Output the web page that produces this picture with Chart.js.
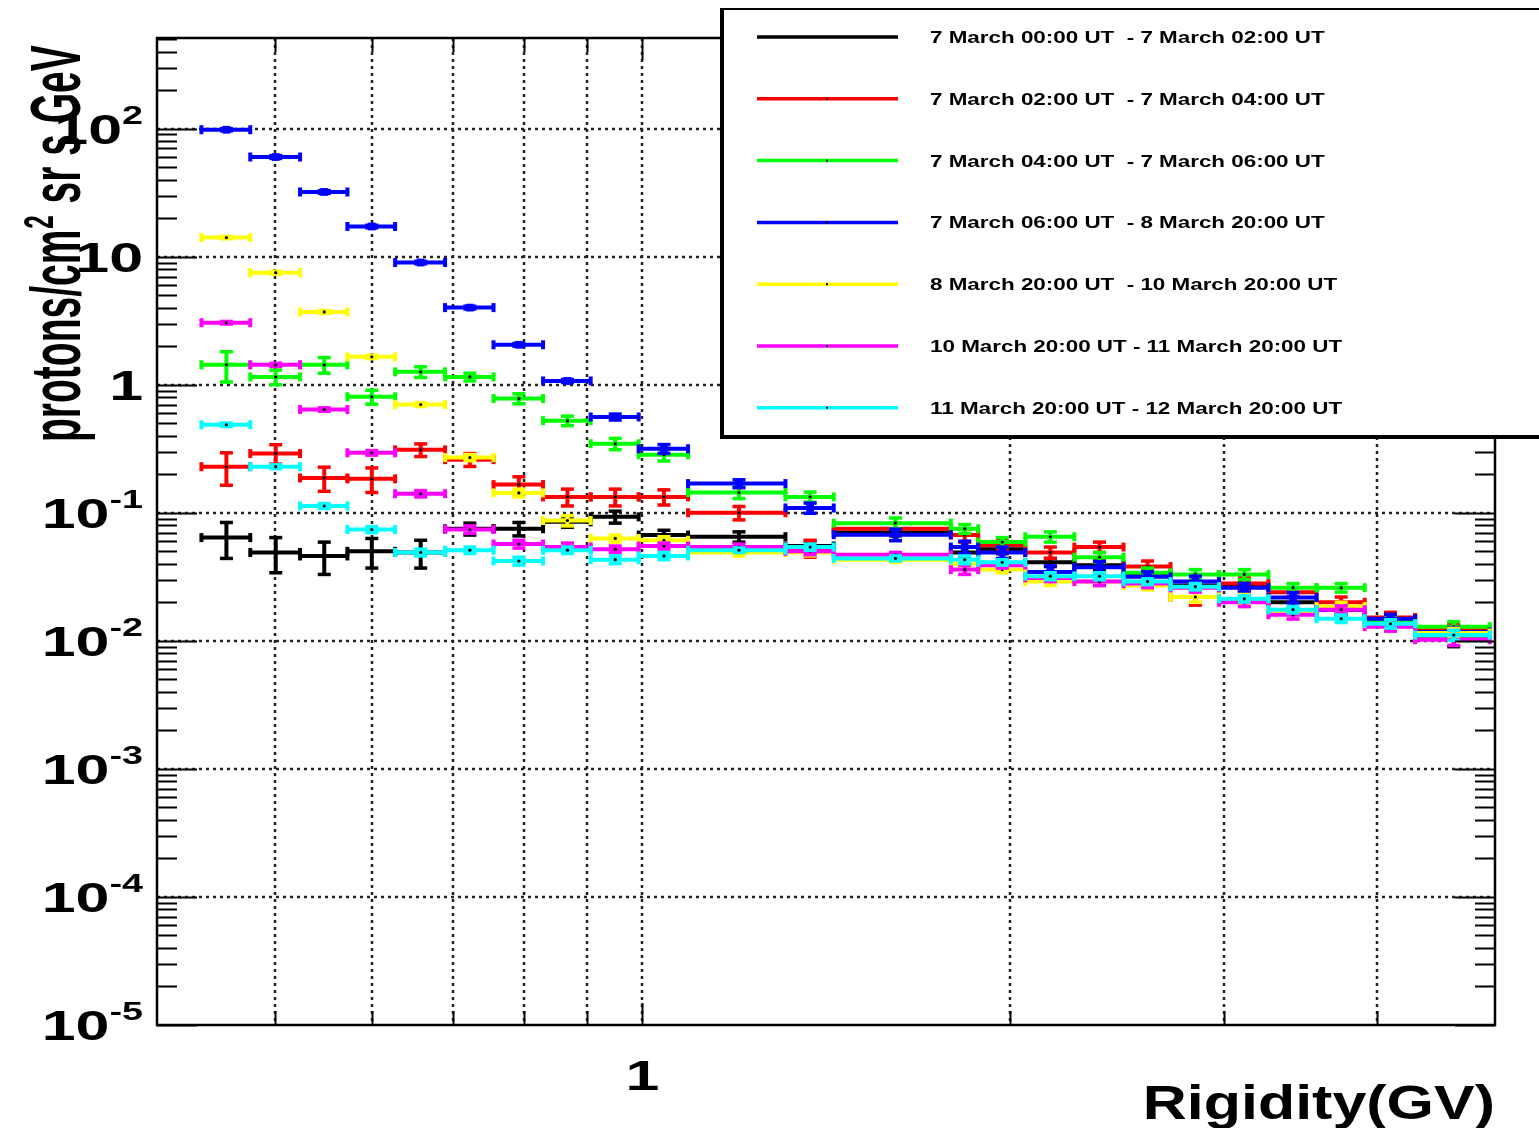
<!DOCTYPE html>
<html>
<head>
<meta charset="utf-8">
<title>Proton spectra, March 2012</title>
<script src="https://cdn.jsdelivr.net/npm/chart.js@4.4.1/dist/chart.umd.min.js"></script>
<style>
  html, body { margin: 0; padding: 0; background: #fff; }
  #plot { display: block; }
</style>
</head>
<body>
<canvas id="plot" width="1539" height="1128"></canvas>
<script>
// rigidity bin edges (GV)
var edges = [0.435, 0.477, 0.524, 0.573, 0.627, 0.689, 0.755, 0.829, 0.907, 0.993, 1.09, 1.31,
             1.435, 1.79, 1.885, 2.06, 2.26, 2.48, 2.71, 2.97, 3.26, 3.57, 3.91, 4.30, 4.95];

var labels = [
  '7 March 00:00 UT  - 7 March 02:00 UT',
  '7 March 02:00 UT  - 7 March 04:00 UT',
  '7 March 04:00 UT  - 7 March 06:00 UT',
  '7 March 06:00 UT  - 8 March 20:00 UT',
  '8 March 20:00 UT  - 10 March 20:00 UT',
  '10 March 20:00 UT - 11 March 20:00 UT',
  '11 March 20:00 UT - 12 March 20:00 UT'
];
var colors = ['#000000', '#ff0000', '#00ff00', '#0000ff', '#ffff00', '#ff00ff', '#00ffff'];

// flux values, protons/cm2 sr s GeV
var black = [0.064, 0.049, 0.046, 0.050, 0.049, 0.075, 0.075, 0.085, 0.093, 0.067, 0.065, 0.055,
             0.070, 0.049, 0.052, 0.041, 0.039, 0.033, 0.027, 0.0265, 0.020, 0.0175, 0.015, 0.011];
var red = [0.229, 0.29, 0.187, 0.184, 0.31, 0.26, 0.166, 0.133, 0.133, 0.133, 0.10, 0.053,
           0.075, 0.067, 0.056, 0.049, 0.054, 0.038, 0.022, 0.028, 0.024, 0.020, 0.0152, 0.0122];
var green = [1.43, 1.15, 1.43, 0.805, 1.26, 1.15, 0.78, 0.524, 0.346, 0.284, 0.144, 0.133,
             0.083, 0.075, 0.059, 0.065, 0.045, 0.034, 0.033, 0.033, 0.026, 0.026, 0.014, 0.0129];
var blue = [98, 60, 32, 17.2, 9.0, 4.0, 2.05, 1.07, 0.56, 0.316, 0.169, 0.109,
            0.0675, 0.054, 0.049, 0.0345, 0.0375, 0.0316, 0.029, 0.026, 0.0218, 0.0175, 0.0149, 0.0117];
var yellow = [14.1, 7.5, 3.7, 1.65, 0.70, 0.27, 0.143, 0.087, 0.063, 0.061, 0.049, 0.049,
              0.043, 0.040, 0.036, 0.029, 0.029, 0.027, 0.022, 0.021, 0.0165, 0.0185, 0.0135, 0.0115];
var magenta = [3.05, 1.43, 0.64, 0.294, 0.141, 0.074, 0.057, 0.054, 0.052, 0.055, 0.054, 0.050,
               0.047, 0.036, 0.039, 0.031, 0.029, 0.028, 0.026, 0.020, 0.016, 0.0175, 0.0129, 0.0102];
var cyan = [0.487, 0.229, 0.113, 0.074, 0.049, 0.051, 0.042, 0.051, 0.043, 0.046, 0.051, 0.054,
            0.044, 0.043, 0.041, 0.032, 0.032, 0.029, 0.0265, 0.0213, 0.0175, 0.0149, 0.0136, 0.0111];

// statistical errors (same units)
var blackErr = [0.02, 0.015, 0.013, 0.013, 0.012, 0.008, 0.009, 0.008, 0.01, 0.006, 0.006, 0.005,
                0.004, 0.005, 0.004, 0.003, 0.003, 0.003, 0.002, 0.002, 0.002, 0.0015, 0.0015, 0.002];
var redErr = [0.065, 0.05, 0.04, 0.04, 0.035, 0.03, 0.025, 0.02, 0.02, 0.018, 0.012, 0.008,
              0.008, 0.008, 0.005, 0.005, 0.005, 0.004, 0.003, 0.003, 0.002, 0.002, 0.0015, 0.0012];
var greenErr = [0.38, 0.15, 0.2, 0.1, 0.12, 0.08, 0.07, 0.045, 0.035, 0.03, 0.015, 0.012,
                0.008, 0.006, 0.005, 0.006, 0.004, 0.003, 0.003, 0.003, 0.002, 0.002, 0.0015, 0.0012];
var blueErr = [2, 1.5, 0.8, 0.4, 0.2, 0.1, 0.05, 0.03, 0.03, 0.025, 0.012, 0.01,
               0.007, 0.006, 0.005, 0.004, 0.004, 0.003, 0.003, 0.002, 0.002, 0.0015, 0.0012, 0.001];
var yellowErr = [0.3, 0.2, 0.1, 0.05, 0.025, 0.015, 0.01, 0.008, 0.004, 0.004, 0.003, 0.003,
                 0.002, 0.003, 0.002, 0.002, 0.002, 0.002, 0.002, 0.002, 0.0015, 0.0015, 0.001, 0.001];
var magentaErr = [0.07, 0.04, 0.02, 0.012, 0.008, 0.005, 0.004, 0.004, 0.003, 0.003, 0.003, 0.003,
                  0.002, 0.003, 0.002, 0.002, 0.002, 0.002, 0.002, 0.0015, 0.0012, 0.0012, 0.001, 0.001];
var cyanErr = [0.015, 0.008, 0.005, 0.004, 0.003, 0.003, 0.003, 0.003, 0.003, 0.003, 0.002, 0.003,
               0.002, 0.003, 0.002, 0.002, 0.002, 0.0015, 0.0015, 0.0012, 0.001, 0.001, 0.001, 0.001];

var xGrid = [0.5, 0.6, 0.7, 0.8, 0.9, 1, 2, 3, 4];
var yExps = [-5, -4, -3, -2, -1, 0, 1, 2];

var series = [black, red, green, blue, yellow, magenta, cyan];
var errors = [blackErr, redErr, greenErr, blueErr, yellowErr, magentaErr, cyanErr];

var SX = 1.45; // the original figure is stretched sideways

var datasets = [];
series.forEach(function(vals, s) {
  var color = colors[s];
  var bars = [], errBars = [], mids = [];
  vals.forEach(function(v, i) {
    var lo = edges[i], hi = edges[i + 1], c = (lo + hi) / 2;
    var e = errors[s][i];
    bars.push({x: lo, y: v}, {x: hi, y: v}, {x: hi, y: null});
    errBars.push({x: c, y: v - e}, {x: c, y: v + e}, {x: c, y: null});
    mids.push({x: c, y: v});
  });
  var base = (6 - s) * 10;
  datasets.push({
    label: labels[s], data: bars, order: base + 3,
    borderColor: color, borderWidth: 4, borderCapStyle: 'butt', fill: false,
    pointStyle: 'line', pointRotation: 90, pointRadius: 4.5,
    pointBorderColor: color, pointBorderWidth: 4, pointBackgroundColor: color
  });
  datasets.push({
    label: labels[s] + ' err', data: errBars, order: base + 2,
    borderColor: color, borderWidth: 4, borderCapStyle: 'butt', fill: false,
    pointStyle: 'line', pointRotation: 0, pointRadius: 6.5,
    pointBorderColor: color, pointBorderWidth: 3.5, pointBackgroundColor: color
  });
  datasets.push({
    label: labels[s] + ' mark', data: mids, order: base + 1, showLine: false,
    pointStyle: s === 3 ? 'rect' : 'circle',
    pointRadius: s === 3 ? 5.5 : 1.6,
    pointBackgroundColor: s === 3 ? color : '#000',
    pointBorderColor: s === 3 ? color : '#000',
    pointBorderWidth: 0
  });
});

function hline(ctx, x1, y1, x2, y2) {
  ctx.beginPath();
  ctx.moveTo(x1, y1);
  ctx.lineTo(x2, y2);
  ctx.stroke();
}

// draws text stretched sideways, anchored at its right / centre / left
function wideText(ctx, text, x, y, font, sx, align) {
  ctx.save();
  ctx.font = font;
  var w = ctx.measureText(text).width * sx;
  var x0 = align === 'right' ? x - w : align === 'center' ? x - w / 2 : x;
  ctx.translate(x0, y);
  ctx.scale(sx, 1);
  ctx.textAlign = 'left';
  ctx.textBaseline = 'alphabetic';
  ctx.fillText(text, 0, 0);
  ctx.restore();
  return w;
}

var rootFrame = {
  id: 'rootFrame',
  beforeDatasetsDraw: function(chart) {
    var ctx = chart.ctx, a = chart.chartArea, x = chart.scales.x, y = chart.scales.y;
    ctx.save();
    ctx.strokeStyle = '#222';
    ctx.lineWidth = 2.5;
    ctx.setLineDash([3, 4]);
    xGrid.forEach(function(v) {
      var px = Math.round(x.getPixelForValue(v));
      hline(ctx, px, a.top, px, a.bottom);
    });
    yExps.forEach(function(e) {
      var py = Math.round(y.getPixelForValue(Math.pow(10, e)));
      if (py > a.top + 2 && py < a.bottom - 2) hline(ctx, a.left, py, a.right, py);
    });
    ctx.restore();
  },
  afterDraw: function(chart) {
    var ctx = chart.ctx, a = chart.chartArea, x = chart.scales.x, y = chart.scales.y;
    ctx.save();
    ctx.strokeStyle = '#000';
    ctx.fillStyle = '#000';

    // log ticks on both y sides
    ctx.lineWidth = 2;
    for (var e = -5; e <= 2; e++) {
      for (var k = 1; k <= 9; k++) {
        var v = k * Math.pow(10, e);
        if (v < y.min || v > y.max) continue;
        var py = Math.round(y.getPixelForValue(v)) + 0.5;
        var len = k === 1 ? 40 : 20;
        hline(ctx, a.left, py, a.left + len, py);
        hline(ctx, a.right - len, py, a.right, py);
      }
    }
    xGrid.forEach(function(v) {
      var px = Math.round(x.getPixelForValue(v)) + 0.5;
      var len = v === 1 ? 22 : 14;
      hline(ctx, px, a.bottom, px, a.bottom - len);
      hline(ctx, px, a.top, px, a.top + len);
    });

    // frame
    ctx.lineWidth = 2.5;
    ctx.strokeRect(a.left, a.top, a.right - a.left, a.bottom - a.top);

    // y tick labels: 10^n
    yExps.forEach(function(e) {
      var py = y.getPixelForValue(Math.pow(10, e));
      var base = e === 0 ? '1' : '10';
      var sup = (e === 0 || e === 1) ? '' : String(e);
      var right = 143;
      var supW = 0;
      if (sup) {
        ctx.font = 'bold 26px "Liberation Sans", Arial, sans-serif';
        supW = ctx.measureText(sup).width * SX;
        wideText(ctx, sup, right, py - 5, ctx.font, SX, 'right');
      }
      wideText(ctx, base, right - supW, py + 15, 'bold 42px "Liberation Sans", Arial, sans-serif', SX, 'right');
    });

    // x tick label
    wideText(ctx, '1', x.getPixelForValue(1), 1090, 'bold 42px "Liberation Sans", Arial, sans-serif', SX, 'center');

    // x title
    wideText(ctx, 'Rigidity(GV)', a.right, 1119, 'bold 48px "Liberation Sans", Arial, sans-serif', 1.27, 'right');

    // y title, rotated
    ctx.save();
    ctx.translate(80, 442);
    ctx.rotate(-Math.PI / 2);
    ctx.scale(1, 1.8);
    ctx.textBaseline = 'alphabetic';
    ctx.font = 'bold 39px "Liberation Sans", Arial, sans-serif';
    var t1 = 'protons/cm';
    ctx.fillText(t1, 0, 0);
    var w1 = ctx.measureText(t1).width;
    ctx.font = 'bold 24px "Liberation Sans", Arial, sans-serif';
    ctx.fillText('2', w1 + 1, -15);
    var w2 = ctx.measureText('2').width;
    ctx.font = 'bold 39px "Liberation Sans", Arial, sans-serif';
    ctx.fillText(' sr s GeV', w1 + w2 + 2, 0);
    ctx.restore();

    // legend box
    var lx = 722, ly = 9, lw = 840, lh = 428;
    ctx.fillStyle = '#fff';
    ctx.fillRect(lx, ly, lw, lh);
    ctx.strokeStyle = '#000';
    ctx.lineWidth = 2;
    hline(ctx, lx, ly, lx + lw, ly);
    ctx.lineWidth = 4;
    hline(ctx, lx, ly - 1, lx, ly + lh + 2);
    hline(ctx, lx - 2, ly + lh, lx + lw, ly + lh);
    labels.forEach(function(lab, s) {
      var ry = 37 + s * 61.8;
      ctx.strokeStyle = colors[s];
      ctx.lineWidth = 3.5;
      hline(ctx, 757, ry, 898, ry);
      ctx.fillStyle = '#000';
      ctx.fillRect(826, ry - 1, 2, 2);
      wideText(ctx, lab, 930, ry + 6, 'bold 16px "Liberation Sans", Arial, sans-serif', 1.4, 'left');
    });
    ctx.restore();
  }
};

new Chart(document.getElementById('plot').getContext('2d'), {
  type: 'line',
  data: { datasets: datasets },
  options: {
    responsive: false,
    animation: false,
    events: [],
    layout: { padding: { left: 157, top: 38, right: 44, bottom: 103 } },
    plugins: { legend: { display: false }, tooltip: { enabled: false } },
    scales: {
      x: { type: 'logarithmic', min: 0.4, max: 5, display: false },
      y: { type: 'logarithmic', min: 1e-5, max: 510, display: false }
    }
  },
  plugins: [rootFrame]
});
</script>
</body>
</html>
